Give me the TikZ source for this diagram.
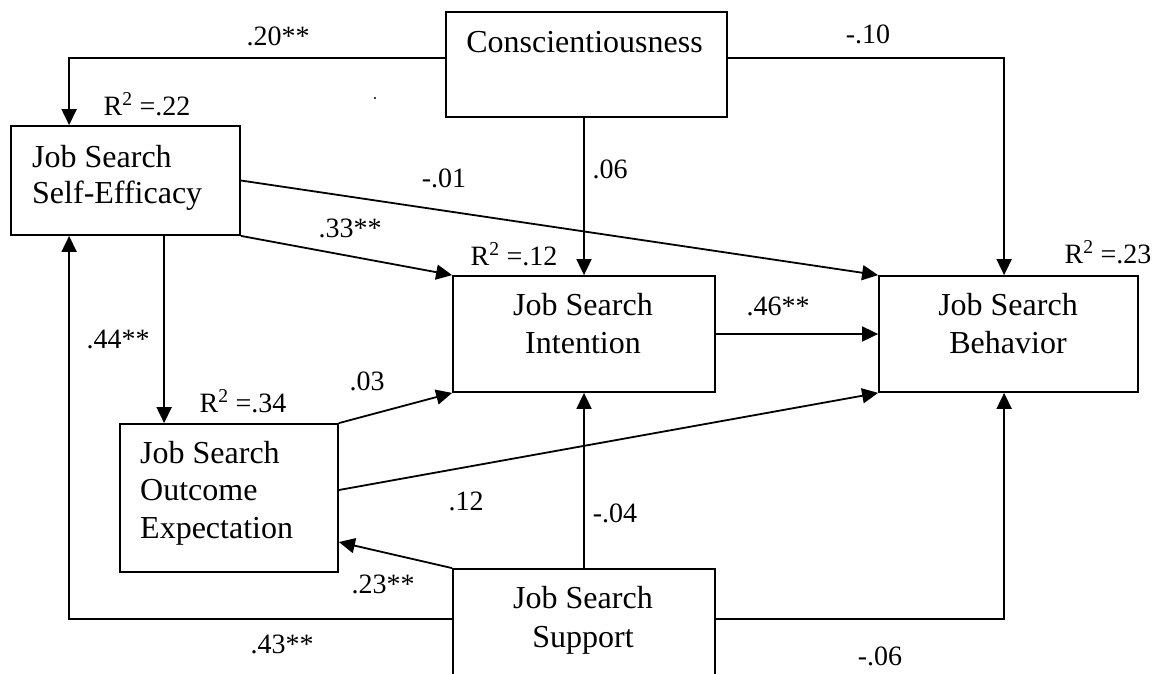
\documentclass[tikz,border=0pt]{standalone}
\usepackage{fontspec}
\setmainfont{Liberation Serif}
\usetikzlibrary{arrows.meta}

\begin{document}
\begin{tikzpicture}[x=1pt, y=-1pt,
  box/.style={draw, rectangle, line width=1.8pt, inner sep=0pt},
  boxtext/.style={inner sep=0pt, font=\fontsize{32}{38}\selectfont},
  lbl/.style={inner sep=0pt, anchor=base, font=\fontsize{28}{34}\selectfont},
  arr/.style={line width=1.8pt, -{Triangle[length=16pt, width=15pt]}}]
\useasboundingbox (0,0) rectangle (1164,673);
\clip (0,0) rectangle (1164,673);

% boxes
\node[box, minimum width=281pt, minimum height=105pt] (consc)   at (586.5,64.5) {};
\node[box, minimum width=229pt, minimum height=109pt] (selfeff) at (125.5,180.5) {};
\node[box, minimum width=262pt, minimum height=116pt] (intent)  at (584,334) {};
\node[box, minimum width=259pt, minimum height=116pt] (behav)   at (1008.5,334) {};
\node[box, minimum width=218pt, minimum height=148pt] (outcome) at (229,498) {};
\node[box, minimum width=262pt, minimum height=131pt] (support) at (584,634.5) {};

% box texts (base anchor sits on the last line)
\node[boxtext, anchor=base] (conscT) at (584.5,52) {Conscientiousness};
\node[boxtext, anchor=base west, align=left, font=\fontsize{32}{36}\selectfont] (selfeffT) at (32,203) {Job Search\\Self-Efficacy};
\node[boxtext, anchor=base, align=center] (intentT) at (583,353) {Job Search\\Intention};
\node[boxtext, anchor=base, align=center] (behavT) at (1008,353) {Job Search\\Behavior};
\node[boxtext, anchor=base west, align=left, font=\fontsize{32}{37.5}\selectfont] (outcomeT) at (140,538) {Job Search\\Outcome\\Expectation};
\node[boxtext, anchor=base, align=center, font=\fontsize{32}{39}\selectfont] (supportT) at (583,647) {Job Search\\Support};

% paths from Conscientiousness
\draw[arr] ([yshift=6.5pt]consc.west) -| ([xshift=59pt]selfeff.north west);
\draw[arr] ([yshift=6.5pt]consc.east) -| ([xshift=126pt]behav.north west);
\draw[arr] (intent.north |- consc.south) -- (intent.north);

% paths from Self-Efficacy
\draw[arr] (selfeff.east) -- (behav.north west);
\draw[arr] (selfeff.south east) -- (intent.north west);
\draw[arr] ([xshift=45pt]outcome.north west |- selfeff.south) -- ([xshift=45pt]outcome.north west);

% paths from Outcome Expectation and Intention
\draw[arr] (outcome.north east) -- (intent.south west);
\draw[arr] ([yshift=8pt]outcome.east) -- (behav.south west);
\draw[arr] (intent.east) -- (behav.west);

% paths from Support
\draw[arr] (intent.south |- support.north) -- (intent.south);
\draw[arr] (support.north west) -- ([yshift=-44pt]outcome.east);
\draw[arr] ([yshift=-51pt]support.north west) -| ([xshift=59pt]selfeff.south west);
\draw[arr] ([yshift=-51pt]support.north east) -| ([xshift=126pt]behav.south west);

% coefficients
\node[lbl] (c20) at (278,45) {.20**};
\node[lbl] (c10) at (868,43) {-.10};
\node[lbl] (c06) at (610,178) {.06};
\node[lbl] (c01) at (444,187) {-.01};
\node[lbl] (c33) at (350,237) {.33**};
\node[lbl] (c46) at (778,315) {.46**};
\node[lbl] (c44) at (118,348) {.44**};
\node[lbl] (c03) at (367,390) {.03};
\node[lbl] (c12) at (466,510) {.12};
\node[lbl] (c04) at (615,522) {-.04};
\node[lbl] (c23) at (383,593) {.23**};
\node[lbl] (c43) at (282,653) {.43**};
\node[lbl] (c06b) at (880,665) {-.06};

% explained variance
\node[lbl] (r22) at (147,115) {R\textsuperscript{2} =.22};
\node[lbl] (r12) at (514,265) {R\textsuperscript{2} =.12};
\node[lbl] (r23) at (1108,263) {R\textsuperscript{2} =.23};
\node[lbl] (r34) at (243,412) {R\textsuperscript{2} =.34};

% stray speck
\node[circle, fill, inner sep=0pt, minimum size=2.2pt] (speck) at (375,98) {};
\end{tikzpicture}
\end{document}
